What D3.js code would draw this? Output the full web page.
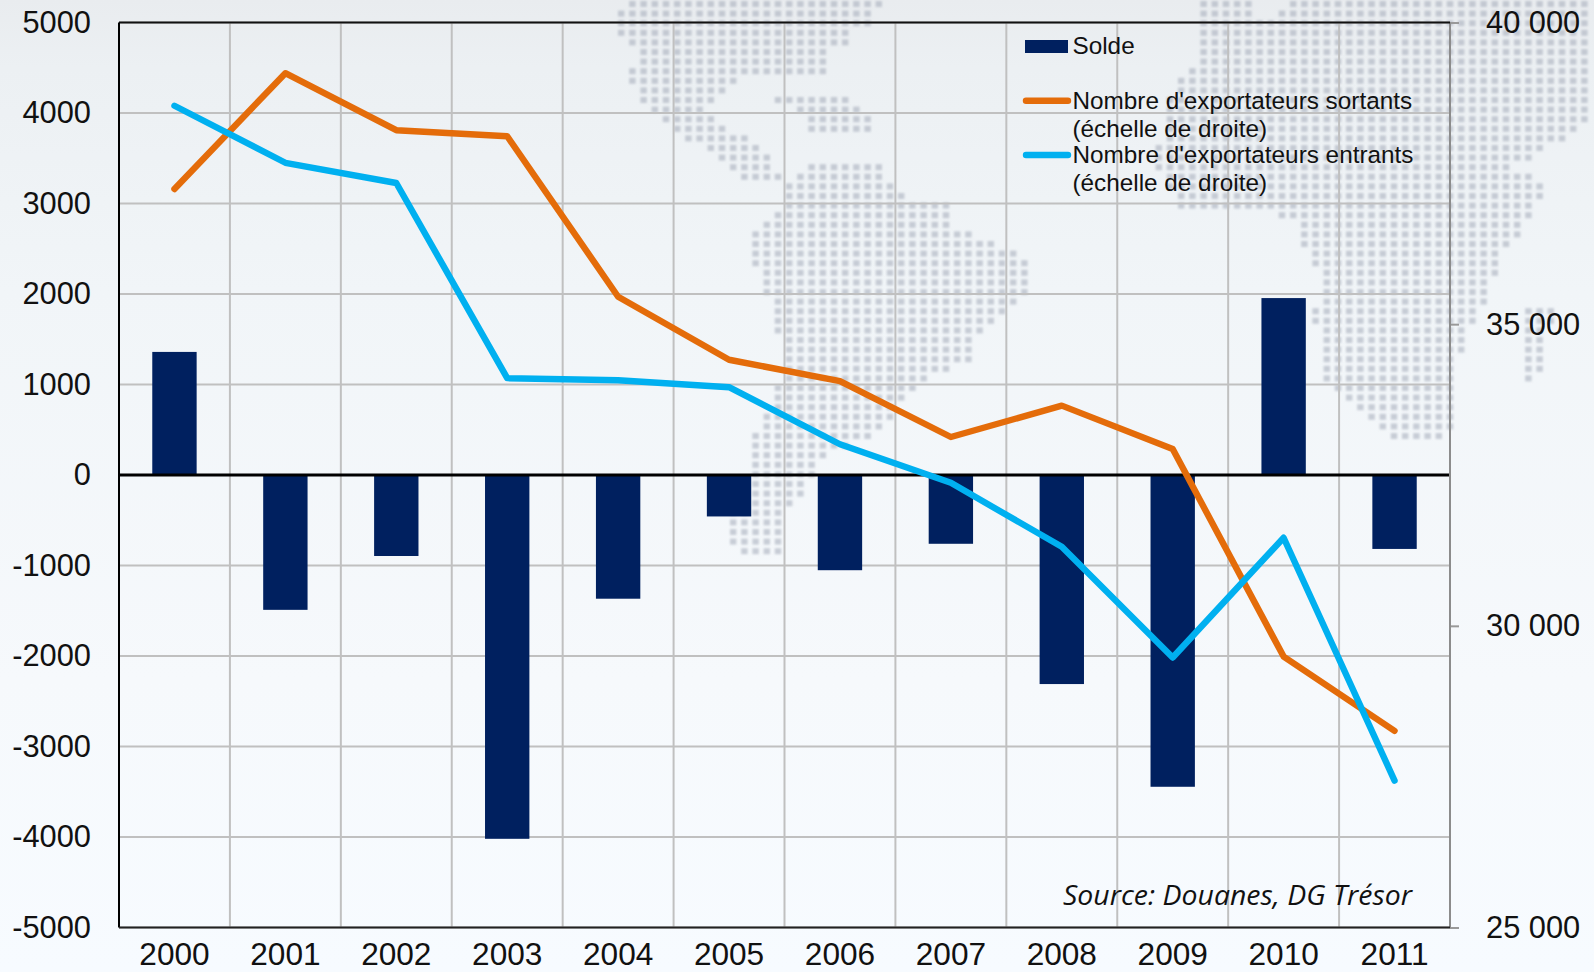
<!DOCTYPE html>
<html>
<head>
<meta charset="utf-8">
<script src="https://cdn.jsdelivr.net/npm/d3@7"></script>
<style>
  html, body { margin: 0; padding: 0; background: #f7fbff; overflow: hidden; }
  text { font-family: "Liberation Sans", Arial, sans-serif; fill: #111; }
</style>
</head>
<body>
<svg id="chart" width="1594" height="972"></svg>
<script>
"use strict";
const years = ["2000","2001","2002","2003","2004","2005","2006","2007","2008","2009","2010","2011"];
const solde = [1360,-1490,-895,-4020,-1367,-458,-1052,-760,-2310,-3445,1955,-817];
const sortants = [37240,39160,38215,38115,35455,34410,34055,33130,33650,32930,29490,28260];
const entrants = [38620,37675,37340,34105,34070,33955,33010,32370,31310,29475,31460,27435];
const leftTicks = [5000,4000,3000,2000,1000,0,-1000,-2000,-3000,-4000,-5000];
const rightTicks = [40000,35000,30000,25000];

// decoration only: rough outlines of the dotted world map behind the chart
const mapOutlines = [
  [[622,0],[880,0],[876,18],[858,30],[846,46],[826,56],[820,86],[800,72],[735,80],[722,100],[708,112],[714,130],[690,122],[660,118],[640,100],[630,80],[634,52],[620,32]],
  [[655,112],[700,112],[745,138],[776,164],[786,182],[745,182],[725,166],[708,150],[675,136]],
  [[772,98],[850,98],[870,112],[876,134],[808,134],[800,114]],
  [[805,165],[880,165],[905,196],[945,200],[950,222],[975,238],[1005,245],[1030,262],[1030,290],[1003,320],[980,332],[977,362],[930,376],[907,396],[893,420],[863,440],[820,460],[810,482],[782,520],[782,556],[735,556],[722,520],[750,482],[752,440],[770,410],[780,380],[785,350],[768,320],[767,300],[747,252],[750,230],[780,205],[785,185]],
  [[1200,0],[1252,0],[1252,20],[1270,20],[1290,0],[1594,0],[1594,110],[1578,135],[1545,150],[1512,166],[1546,186],[1540,204],[1520,232],[1500,262],[1482,310],[1462,350],[1452,388],[1450,436],[1400,440],[1368,420],[1335,395],[1320,370],[1314,310],[1320,285],[1312,262],[1300,240],[1290,216],[1240,212],[1185,212],[1170,188],[1156,162],[1172,82],[1198,60]],
  [[1518,305],[1552,305],[1550,345],[1535,382],[1520,380]]
];

const width = 1594, height = 972;
const margin = {top: 22.5, right: 144, bottom: 44.5, left: 119};
const svg = d3.select("#chart");

const defs = svg.append("defs");
const bg = defs.append("linearGradient").attr("id","bg").attr("x1",0).attr("x2",0).attr("y1",0).attr("y2",1);
bg.append("stop").attr("offset","0%").attr("stop-color","#e9ecef");
bg.append("stop").attr("offset","7%").attr("stop-color","#ecf0f3");
bg.append("stop").attr("offset","30%").attr("stop-color","#f1f5f8");
bg.append("stop").attr("offset","70%").attr("stop-color","#f6f9fc");
bg.append("stop").attr("offset","100%").attr("stop-color","#f7fbff");
defs.append("filter").attr("id","soft").append("feGaussianBlur").attr("stdDeviation",1.2);

svg.append("rect").attr("width",width).attr("height",height).attr("fill","url(#bg)");

// dots of the map
const mapDots = [];
d3.range(4,560,9.6).forEach(y => {
  d3.range(610,1594,11.2).forEach(x => {
    if (mapOutlines.some(o => d3.polygonContains(o,[x,y]))) mapDots.push([x,y]);
  });
});
svg.append("g").attr("filter","url(#soft)")
  .selectAll("rect").data(mapDots).enter().append("rect")
  .attr("x",d => d[0]-3.2).attr("y",d => d[1]-3)
  .attr("width",6.4).attr("height",6)
  .attr("fill","#a3a9b8").attr("opacity",0.55);

const x = d3.scaleBand().domain(years).range([margin.left,width-margin.right]).paddingInner(0.6).paddingOuter(0.3);
const yLeft = d3.scaleLinear().domain([-5000,5000]).range([height-margin.bottom,margin.top]);
const yRight = d3.scaleLinear().domain([25000,40000]).range([height-margin.bottom,margin.top]);

// grid
const grid = svg.append("g").attr("stroke","#c0c0c0").attr("stroke-width",2);
grid.selectAll("line.h").data(leftTicks).enter().append("line").attr("class","h")
  .attr("x1",margin.left).attr("x2",width-margin.right)
  .attr("y1",d => yLeft(d)).attr("y2",d => yLeft(d));
grid.selectAll("line.v").data(years.slice(1)).enter().append("line").attr("class","v")
  .attr("x1",d => x(d)-x.step()*0.3).attr("x2",d => x(d)-x.step()*0.3)
  .attr("y1",margin.top).attr("y2",height-margin.bottom);

// bars
svg.append("g").selectAll("rect").data(solde).enter().append("rect")
  .attr("x",(d,i) => x(years[i]))
  .attr("y",d => yLeft(Math.max(d,0)))
  .attr("width",x.bandwidth())
  .attr("height",d => Math.abs(yLeft(d)-yLeft(0)))
  .attr("fill","#00205f");

// zero line
svg.append("line").attr("x1",margin.left).attr("x2",width-margin.right)
  .attr("y1",yLeft(0)).attr("y2",yLeft(0)).attr("stroke","#000").attr("stroke-width",3);

// axes
const axL = svg.append("g").attr("transform",`translate(${margin.left},0)`)
  .call(d3.axisLeft(yLeft).tickValues(leftTicks).tickSize(0).tickPadding(28).tickFormat(d => String(d)));
const axB = svg.append("g").attr("transform",`translate(0,${height-margin.bottom})`)
  .call(d3.axisBottom(x).tickSize(0).tickPadding(15));
const axR = svg.append("g").attr("transform",`translate(${width-margin.right},0)`)
  .call(d3.axisRight(yRight).tickValues(rightTicks).tickSize(9).tickPadding(27)
    .tickFormat(d => d3.format(",")(d).replace(",", " ")));
[[axL,"30.8px"],[axB,"31.6px"],[axR,"30.8px"]].forEach(a => {
  a[0].select(".domain").remove();
  a[0].selectAll("text").attr("font-size",a[1]).attr("fill","#111");
  a[0].attr("font-family",null);
});
axR.selectAll("line").attr("stroke","#999").attr("stroke-width",2);

// frame
const frame = svg.append("g");
frame.append("line").attr("x1",width-margin.right).attr("x2",width-margin.right)
  .attr("y1",margin.top).attr("y2",height-margin.bottom).attr("stroke","#8c8c8c").attr("stroke-width",2);
frame.append("line").attr("x1",margin.left).attr("x2",width-margin.right)
  .attr("y1",margin.top).attr("y2",margin.top).attr("stroke","#111").attr("stroke-width",2);
frame.append("line").attr("x1",margin.left).attr("x2",margin.left)
  .attr("y1",margin.top).attr("y2",height-margin.bottom).attr("stroke","#000").attr("stroke-width",2);
frame.append("line").attr("x1",margin.left).attr("x2",width-margin.right)
  .attr("y1",height-margin.bottom).attr("y2",height-margin.bottom).attr("stroke","#222").attr("stroke-width",2);

// lines
const line = d3.line().x((d,i) => x(years[i])+x.bandwidth()/2).y(d => yRight(d));
[[sortants,"#e46c0a"],[entrants,"#00b0f0"]].forEach(s => {
  svg.append("path").datum(s[0]).attr("d",line)
    .attr("fill","none").attr("stroke",s[1]).attr("stroke-width",6.4)
    .attr("stroke-linecap","round").attr("stroke-linejoin","round");
});

// legend
const leg = svg.append("g");
leg.append("rect").attr("x",1025).attr("y",40).attr("width",43).attr("height",13).attr("fill","#00205f");
leg.append("line").attr("x1",1026).attr("x2",1068).attr("y1",100.7).attr("y2",100.7)
  .attr("stroke","#e46c0a").attr("stroke-width",6.4).attr("stroke-linecap","round");
leg.append("line").attr("x1",1026).attr("x2",1068).attr("y1",155).attr("y2",155)
  .attr("stroke","#00b0f0").attr("stroke-width",6.4).attr("stroke-linecap","round");
const legendText = [["Solde",54],["Nombre d'exportateurs sortants",109],["(échelle de droite)",136.7],
  ["Nombre d'exportateurs entrants",163],["(échelle de droite)",190.7]];
leg.selectAll("text").data(legendText).enter().append("text")
  .attr("x",1072.5).attr("y",d => d[1]).attr("font-size","24.3px").text(d => d[0]);

svg.append("text").attr("x",1063).attr("y",905)
  .attr("textLength",349).attr("lengthAdjust","spacingAndGlyphs")
  .style("font-family","'Open Sans'").attr("font-style","italic").attr("font-size","27px")
  .text("Source: Douanes, DG Trésor");
</script>
</body>
</html>
